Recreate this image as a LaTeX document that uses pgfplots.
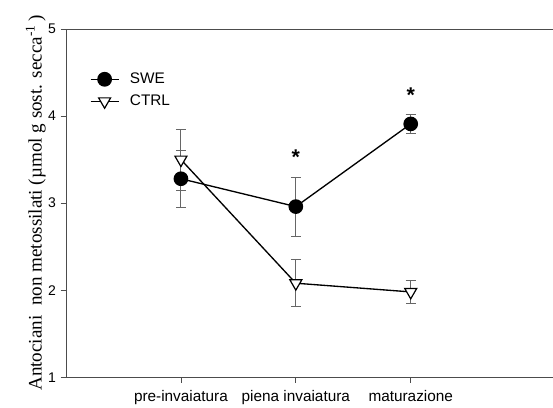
\documentclass[border=0pt]{standalone}
\usepackage{pgfplots}
\pgfplotsset{compat=1.18}
\usepackage{fontspec}
\setmainfont{Liberation Sans}
\newfontfamily\seriffont{Liberation Serif}
\begin{document}
\begin{tikzpicture}
\begin{axis}[
  scale only axis,
  width=366pt, height=261pt,
  xmin=0, xmax=4.25, ymin=1, ymax=5,
  axis x line*=bottom, axis y line*=left,
  axis line style={line width=0.6pt, draw=black!70},
  xtick={1,2,3},
  xticklabels={pre-invaiatura, piena invaiatura, maturazione},
  ytick={1,2,3,4,5},
  tick align=outside, major tick length=4pt,
  tick style={line width=0.6pt, draw=black!70},
  /pgf/number format/assume math mode=true,
  ticklabel style={font=\fontsize{10.5}{12}\selectfont},
  xticklabel style={font=\fontsize{11.5}{13}\selectfont, yshift=-2pt},
  ylabel={\seriffont Antociani\ \ non metossilati (µmol g sost. secca\textsuperscript{-1}\,)},
  ylabel style={font=\fontsize{14.3}{15}\selectfont, yshift=-5pt},
  legend style={draw=none, fill=none, at={(rel axis cs:0.04,0.89)}, anchor=north west,
    font=\fontsize{11.5}{13}\selectfont, row sep=3pt},
  legend cell align=left,
  legend image code/.code={%
    \draw[line width=1.1pt, mark repeat=2,mark phase=2] plot coordinates {(0cm,0cm) (0.37cm,0cm) (0.74cm,0cm)};
    \path (0.95cm,0cm);},
  clip=false,
]
\addplot[black, line width=1pt, mark=*, mark size=5pt, mark options={fill=black},
  error bars/.cd, y dir=both, y explicit,
  error bar style={line width=0.7pt, draw=black!60},
  error mark options={line width=0.7pt, draw=black!60, mark size=3.75pt, rotate=90}]
  coordinates {
  (1,3.28) +- (0,0.33)
  (2,2.96) +- (0,0.34)
  (3,3.91) +- (0,0.11)
  };
\addlegendentry{SWE}
\addplot[black, line width=1pt, mark=triangle*, mark size=5.2pt,
  mark options={fill=white, rotate=180, line width=0.9pt},
  error bars/.cd, y dir=both, y explicit,
  error bar style={line width=0.7pt, draw=black!60},
  error mark options={line width=0.7pt, draw=black!60, mark size=3.75pt, rotate=90}]
  coordinates {
  (1,3.50) +- (0,0.35)
  (2,2.08) +- (0,0.27)
  (3,1.98) +- (0,0.13)
  };
\addlegendentry{CTRL}
\node[font=\fontsize{16}{16}\bfseries\selectfont] at (axis cs:2,3.53) {*};
\node[font=\fontsize{16}{16}\bfseries\selectfont] at (axis cs:3,4.24) {*};
\coordinate (bl) at (rel axis cs:0,0);
\coordinate (tr) at (rel axis cs:1,1);
\draw[line width=0.6pt, draw=black!70] (rel axis cs:0,1) -- (rel axis cs:1,1);
\end{axis}
\pgfresetboundingbox
\path[use as bounding box] ([xshift=-49.5pt,yshift=-22.5pt]bl) rectangle ([xshift=-1pt,yshift=21.75pt]tr);
\end{tikzpicture}
\end{document}
